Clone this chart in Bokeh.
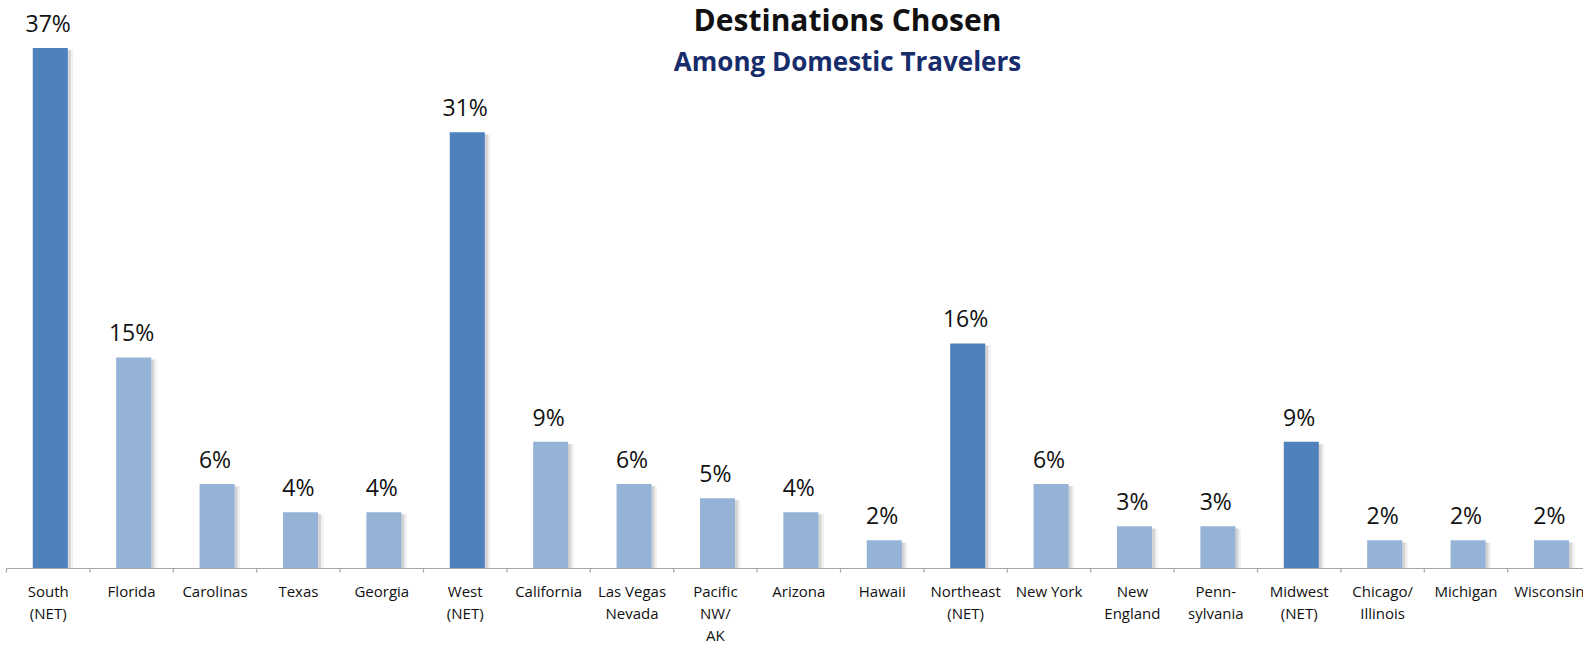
from bokeh.plotting import figure
from bokeh.models import ColumnDataSource, Range1d, Label
from bokeh.core.properties import value
from bokeh.embed import file_html
from bokeh.resources import INLINE

categories = ["South\n(NET)", "Florida", "Carolinas", "Texas", "Georgia", "West\n(NET)",
              "California", "Las Vegas\nNevada", "Pacific\nNW/\nAK", "Arizona", "Hawaii",
              "Northeast\n(NET)", "New York", "New\nEngland", "Penn-\nsylvania",
              "Midwest\n(NET)", "Chicago/\nIllinois", "Michigan", "Wisconsin"]
values = [37, 15, 6, 4, 4, 31, 9, 6, 5, 4, 2, 16, 6, 3, 3, 9, 2, 2, 2]
is_net = [True, False, False, False, False, True, False, False, False, False, False,
          True, False, False, False, True, False, False, False]

DARK = "#4F81BD"
LIGHT = "#95B3D7"

idx = list(range(len(categories)))
colors = [DARK if n else LIGHT for n in is_net]
src = ColumnDataSource(dict(
    x=idx,
    xs=[i + 0.025 for i in idx],
    xsh1=[i + 0.06 for i in idx],
    xsh2=[i + 0.09 for i in idx],
    top=values,
    topsh=[v - 0.15 for v in values],
    color=colors,
    label=[f"{v}%" for v in values],
    cat=categories,
    zero=[0] * len(idx),
))

W, H = 1583, 645
px_per_unit_x = 83.4
x0 = -0.5 - 6 / px_per_unit_x
x1 = x0 + W / px_per_unit_x
px_per_pct = 14.07
axis_page_y = 568
y1 = axis_page_y / px_per_pct
y0 = -(H - axis_page_y) / px_per_pct

p = figure(width=W, height=H, output_backend="svg", toolbar_location=None,
           x_range=Range1d(x0, x1), y_range=Range1d(y0, y1),
           min_border=0, min_border_left=0, min_border_right=0,
           min_border_top=0, min_border_bottom=0)
p.xaxis.visible = False
p.yaxis.visible = False
p.xgrid.visible = False
p.ygrid.visible = False
p.outline_line_color = None
p.background_fill_color = "white"
p.border_fill_color = "white"

bw = 0.42
# soft shadows
p.vbar(x="xsh2", top="topsh", bottom=0, width=bw, source=src,
       fill_color="#808080", fill_alpha=0.12, line_color=None)
p.vbar(x="xsh1", top="topsh", bottom=0, width=bw, source=src,
       fill_color="#808080", fill_alpha=0.25, line_color=None)
# bars
p.vbar(x="xs", top="top", bottom=0, width=bw, source=src,
       fill_color="color", line_color=None)

# axis line and boundary ticks
p.segment(x0=[-0.5], y0=[0], x1=[len(idx) - 0.5], y1=[0],
          line_color="#A6A6A6", line_width=1.2)
tick_len = 4 / px_per_pct
bounds = [i - 0.5 for i in range(len(idx) + 1)]
p.segment(x0=bounds, y0=[0] * len(bounds), x1=bounds, y1=[-tick_len] * len(bounds),
          line_color="#A6A6A6", line_width=1.2)

# value labels
p.text(x="x", y="top", text="label", source=src, text_align="center",
       text_baseline="alphabetic", y_offset=-25,
       text_font=value("Open Sans"), text_font_size="23px", text_color="#111111")

# category labels
p.text(x="x", y="zero", text="cat", source=src, text_align="center",
       text_baseline="top", y_offset=12, text_line_height=1.1,
       text_font=value("Open Sans"), text_font_size="15px", text_color="#111111")

title_x = (847 - 6) / px_per_unit_x - 0.5
p.add_layout(Label(x=title_x, y=(axis_page_y - 19) / px_per_pct, text="Destinations Chosen",
                   text_align="center", text_baseline="alphabetic",
                   text_font="Open Sans", text_font_style="bold",
                   text_font_size="30px", text_color="#111111"))
p.add_layout(Label(x=title_x, y=(axis_page_y - 60) / px_per_pct, text="Among Domestic Travelers",
                   text_align="center", text_baseline="alphabetic",
                   text_font="Open Sans", text_font_style="bold",
                   text_font_size="26px", text_color="#172C6B"))

open("out.html", "w").write(file_html(p, INLINE))
